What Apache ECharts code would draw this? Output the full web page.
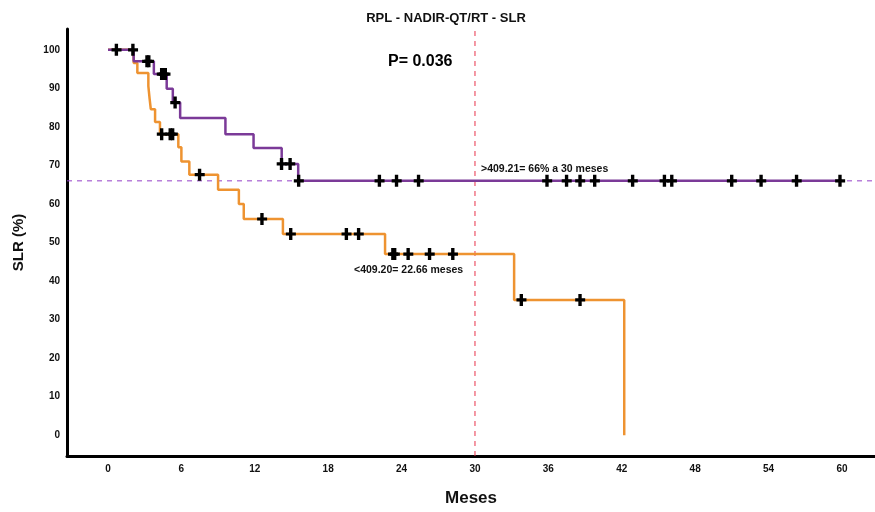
<!DOCTYPE html>
<html>
<head>
<meta charset="utf-8">
<script src="https://cdn.jsdelivr.net/npm/echarts@6/dist/echarts.min.js"></script>
<style>
  html, body { margin: 0; padding: 0; background: #fff; }
  #chart { width: 875px; height: 512px; }
</style>
</head>
<body>
<div id="chart"></div>
<script>
// KM steps: [time, survival after the drop]
var purpleSteps = [[0, 100], [2.1, 97], [3.75, 93.7], [4.8, 89.9], [5.3, 86.3], [5.9, 82.3],
  [9.6, 78.1], [11.9, 74.5], [14.2, 70.4], [15.55, 66], [60, 66]];
var orangeSteps = [[0, 100], [2.1, 96.6], [2.4, 94], [3.3, 90.6], [3.4, 87.4], [3.5, 84.6],
  [3.85, 81.3], [4.25, 78.1], [5.75, 74.7], [6.0, 71], [6.65, 67.6], [9.0, 63.7],
  [10.7, 60], [11.1, 56.1], [14.3, 52.2], [22.65, 47], [33.2, 35.1], [42.2, 0]];
// censored times
var purpleCensor = [0.7, 2.05, 3.2, 3.35, 4.4, 4.55, 4.7, 5.5, 14.2, 14.9, 15.6, 22.2, 23.6, 25.4,
  35.9, 37.5, 38.6, 39.8, 42.9, 45.5, 46.1, 51.0, 53.4, 56.3, 59.85];
var orangeCensor = [4.4, 5.1, 5.3, 7.5, 12.6, 14.95, 19.5, 20.5, 23.3, 23.45, 24.55, 26.3, 28.2,
  33.8, 38.6];
var xTicks = [0, 6, 12, 18, 24, 30, 36, 42, 48, 54, 60];
var yTicks = [0, 10, 20, 30, 40, 50, 60, 70, 80, 90, 100];
var xRange = [-3.35, 62.7];
var yRange = [-5.4, 105.4];
var refTime = 30;    // vertical dashed line
var refSurv = 66;    // horizontal dashed line

var purple = '#7B3A98';
var orange = '#EE9331';
var font = "'Liberation Sans', Arial, sans-serif";

function stepValue(steps, t) {
  var v = steps[0][1];
  for (var i = 0; i < steps.length; i++) {
    if (steps[i][0] <= t) v = steps[i][1];
  }
  return v;
}
function censorPoints(steps, times) {
  return times.map(function (t) { return [t, stepValue(steps, t)]; });
}

var plus = 'path://M3,0H6.2V4.4H9.5V7.6H6.2V12H3V7.6H0V4.4H3Z';

var chart = echarts.init(document.getElementById('chart'));
chart.setOption({
  animation: false,
  backgroundColor: '#fff',
  title: {
    text: 'RPL - NADIR-QT/RT - SLR',
    left: 441, top: 7, textAlign: 'center',
    textStyle: { fontFamily: font, fontSize: 13, fontWeight: 'bold', color: '#111' }
  },
  grid: { left: 67, right: 0, top: 29, bottom: 52 },
  xAxis: {
    type: 'value', min: xRange[0], max: xRange[1],
    name: 'Meses', nameLocation: 'middle', nameGap: 34,
    nameTextStyle: { fontFamily: font, fontSize: 17, fontWeight: 'bold', color: '#111' },
    axisLine: { onZero: false, lineStyle: { color: '#000', width: 3 } },
    axisTick: { show: false },
    splitLine: { show: false },
    axisLabel: { customValues: xTicks, margin: 8, fontFamily: font, fontSize: 10, fontWeight: 'bold', color: '#111' }
  },
  yAxis: {
    type: 'value', min: yRange[0], max: yRange[1],
    name: 'SLR (%)', nameLocation: 'middle', nameGap: 41, nameRotate: 90,
    nameTextStyle: { fontFamily: font, fontSize: 15, fontWeight: 'bold', color: '#111' },
    axisLine: { onZero: false, lineStyle: { color: '#000', width: 3 } },
    axisTick: { show: false },
    splitLine: { show: false },
    axisLabel: { customValues: yTicks, margin: 7, fontFamily: font, fontSize: 10, fontWeight: 'bold', color: '#111' }
  },
  graphic: [
    { type: 'text', left: 388, top: 54, style: { text: 'P= 0.036', font: 'bold 16px ' + font, fill: '#000' } },
    { type: 'text', left: 481, top: 164, style: { text: '>409.21= 66% a 30 meses', font: 'bold 10.5px ' + font, fill: '#111' } },
    { type: 'text', left: 354, top: 265, style: { text: '<409.20= 22.66 meses', font: 'bold 10.5px ' + font, fill: '#111' } }
  ],
  series: [
    {
      type: 'line', data: [[refTime, yRange[0]], [refTime, yRange[1]]], showSymbol: false, silent: true,
      lineStyle: { color: '#E8334A', type: [5, 5], width: 1 }, z: 1
    },
    {
      type: 'line', data: [[xRange[0], refSurv], [xRange[1], refSurv]], showSymbol: false, silent: true,
      lineStyle: { color: '#9440C8', type: [5, 5], width: 1 }, z: 1
    },
    {
      type: 'line', data: orangeSteps, step: 'end', showSymbol: false,
      lineStyle: { color: orange, width: 2.5 }, z: 3
    },
    {
      type: 'line', data: purpleSteps, step: 'end', showSymbol: false,
      lineStyle: { color: purple, width: 2.5 }, z: 4
    },
    {
      type: 'scatter', data: censorPoints(orangeSteps, orangeCensor),
      symbol: plus, symbolSize: [10, 12], itemStyle: { color: '#000', opacity: 1 }, z: 6
    },
    {
      type: 'scatter', data: censorPoints(purpleSteps, purpleCensor),
      symbol: plus, symbolSize: [10, 12], itemStyle: { color: '#000', opacity: 1 }, z: 6
    }
  ]
});
</script>
</body>
</html>
